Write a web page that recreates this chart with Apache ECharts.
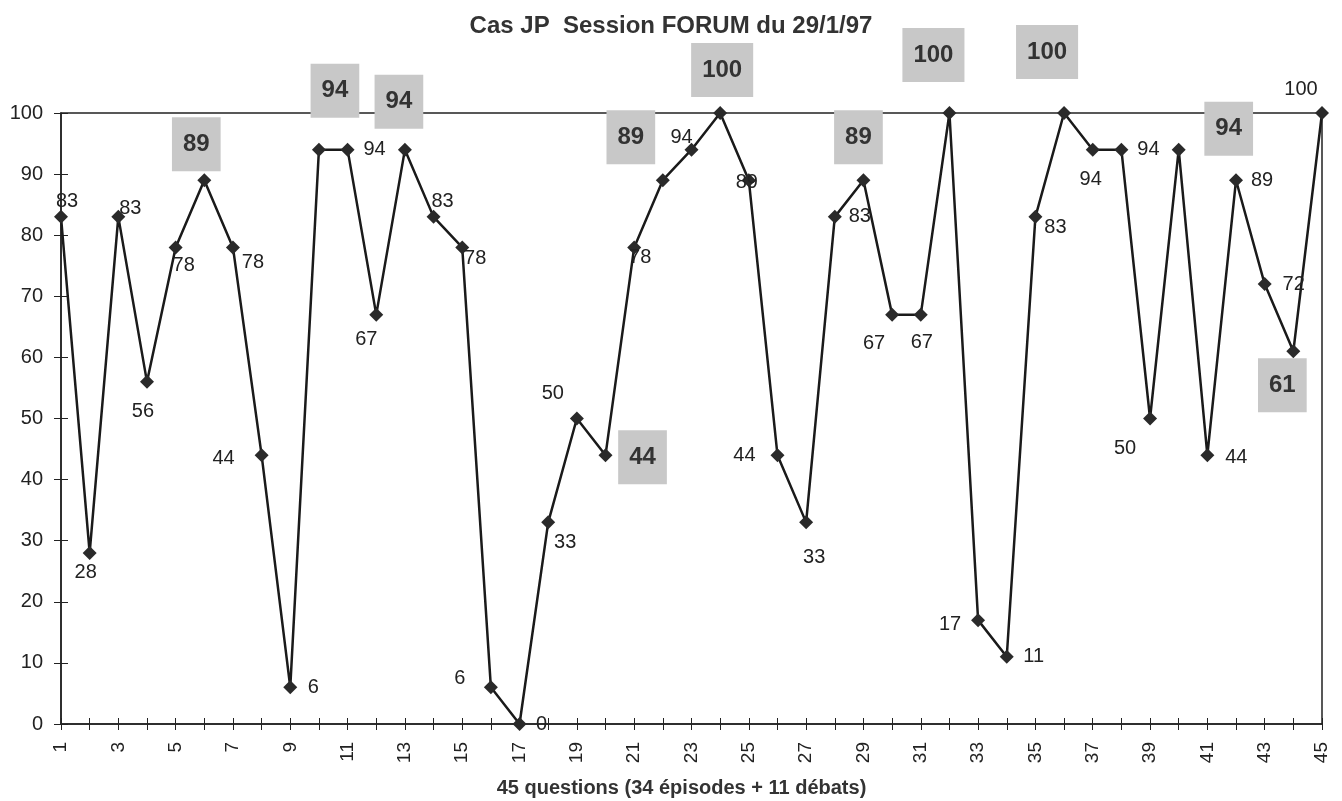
<!DOCTYPE html>
<html><head><meta charset="utf-8">
<script src="https://cdn.jsdelivr.net/npm/echarts@6/dist/echarts.min.js"></script>
<style>html,body{margin:0;padding:0;background:#fff}#c{width:1342px;height:801px}</style>
</head><body><div id="c"></div>
<script>
// ---- data ----
const titleText = 'Cas JP  Session FORUM du 29/1/97';
const xAxisName = '45 questions (34 épisodes + 11 débats)';
const categories = ['1','2','3','4','5','6','7','8','9','10','11','12','13','14','15','16','17','18','19','20','21','22','23','24','25','26','27','28','29','30','31','32','33','34','35','36','37','38','39','40','41','42','43','44','45'];
const scores = [83,28,83,56,78,89,78,44,6,94, 94,67,94,83,78,6,0,33,50,44, 78,89,94,100,89,44,33,83,89,67, 67,100,17,11,83,100,94,94,50,94, 44,89,72,61,100];
const debates = [6,10,13,20,22,24,29,32,36,40,44];
const yTicks = [0,10,20,30,40,50,60,70,80,90,100];

// ---- layout: label offsets (px) per question ----
const labelOffsets = [
  [6,-15],[-4,20],[12,-8],[-4,30],[8,18],[-8,-36],[20,15],[-38,3],[23,0],[16,-59],
  [27,0],[-10,25],[-6,-48],[9,-15],[13,11],[-31,-9],[22,0],[17,20],[-24,-25],[37,2],
  [6,10],[-32,-43],[-10,-12],[2,-43],[-2,2],[-33,0],[8,35],[25,0],[-5,-43],[-18,29],
  [1,28],[-16,-58],[-28,4],[27,0],[20,11],[-17,-61],[-2,30],[27,0],[-25,30],[50,-21],
  [29,2],[26,0],[29,0],[-11,34],[-21,-24]
];

const FONT = '"Liberation Sans", Arial, sans-serif';
const seriesData = scores.map((v, i) => {
  const q = i + 1;
  const isDebate = debates.indexOf(q) >= 0;
  const label = isDebate ? {
    show: true, position: 'inside',
    fontSize: 24, fontWeight: 'bold', color: '#333', fontFamily: FONT,
    backgroundColor: '#c8c8c8', padding: [16, 11, 14, 11]
  } : {
    show: true, position: 'inside',
    fontSize: 20, color: '#222', fontFamily: FONT
  };
  return { value: v, label: label };
});

const chart = echarts.init(document.getElementById('c'), null, {renderer: 'canvas'});
chart.setOption({
  animation: false,
  backgroundColor: '#fff',
  title: {
    text: titleText, left: 'center', top: 14, padding: 0,
    textStyle: {fontFamily: FONT, fontSize: 24, fontWeight: 'bold', color: '#333'}
  },
  grid: {left: 61, right: 20, top: 113, bottom: 77, show: true, borderColor: '#222', borderWidth: 1.5,
         backgroundColor: 'transparent', containLabel: false, outerBoundsMode: 'none'},
  xAxis: [{
    type: 'category', data: categories, boundaryGap: false,
    name: xAxisName, nameLocation: 'middle', nameGap: 54,
    nameTextStyle: {fontFamily: FONT, fontSize: 20, fontWeight: 'bold', color: '#333', padding: [0, 20, 0, 0]},
    axisLine: {lineStyle: {color: '#222', width: 1.5}},
    axisTick: {show: true, interval: 0, length: 6, lineStyle: {color: '#222'}},
    axisLabel: {interval: 1, rotate: 90, margin: 18, fontSize: 19, color: '#222', fontFamily: FONT},
    splitLine: {show: false}
  }, {
    type: 'category', data: categories, boundaryGap: false, position: 'bottom',
    axisLine: {show: false},
    axisTick: {show: true, inside: true, interval: 0, length: 6, lineStyle: {color: '#222'}},
    axisLabel: {show: false}, splitLine: {show: false}
  }],
  yAxis: [{
    type: 'value', min: yTicks[0], max: yTicks[yTicks.length - 1], interval: 10,
    axisLine: {show: true, lineStyle: {color: '#222', width: 1.5}},
    axisTick: {show: true, length: 7, lineStyle: {color: '#222'}},
    axisLabel: {margin: 18, fontSize: 20, color: '#222', fontFamily: FONT},
    splitLine: {show: false}
  }, {
    type: 'value', min: yTicks[0], max: yTicks[yTicks.length - 1], interval: 10, position: 'left',
    axisLine: {show: false},
    axisTick: {show: true, inside: true, length: 7, lineStyle: {color: '#222'}},
    axisLabel: {show: false}, splitLine: {show: false}
  }],
  series: [{
    type: 'line', data: seriesData, xAxisIndex: 0, yAxisIndex: 0,
    symbol: 'diamond', symbolSize: 14,
    itemStyle: {color: '#2a2a2a'},
    lineStyle: {color: '#1a1a1a', width: 2.5},
    labelLayout: function (params) {
      const off = labelOffsets[params.dataIndex];
      return {dx: off[0], dy: off[1], hideOverlap: false};
    }
  }]
});
</script></body></html>
